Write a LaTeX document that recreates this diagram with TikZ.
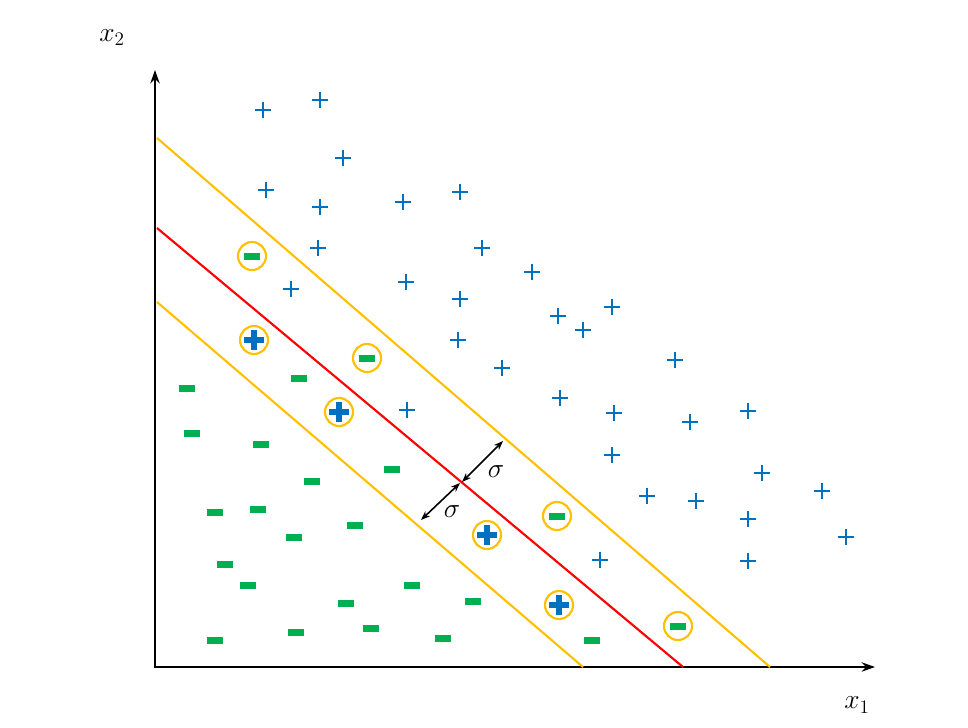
\documentclass[tikz,border=0pt]{standalone}
\usepackage{tikz}
\usepackage{xcolor}
\usetikzlibrary{arrows.meta}
\definecolor{posblue}{HTML}{0070C0}
\definecolor{neggreen}{HTML}{00B050}
\definecolor{margin}{HTML}{FFC000}
\tikzstyle{axis}=[-{Stealth[length=10pt,width=7pt]}, line width=2.2pt]
\tikzstyle{band}=[draw=margin, line width=1.6pt]
\tikzstyle{split}=[draw=red, line width=1.6pt]
\tikzstyle{gap}=[{Stealth[length=7pt]}-{Stealth[length=7pt]}, line width=1.2pt]
\tikzstyle{ring}=[draw=margin, line width=1.6pt]
\newcommand{\pos}[2]{\draw[posblue, line width=2.2pt] (#1-8,#2) -- (#1+8,#2) (#1,#2-8) -- (#1,#2+8);}
\newcommand{\bigpos}[2]{\draw[posblue, line width=4pt] (#1-10,#2) -- (#1+10,#2) (#1,#2-10) -- (#1,#2+10);}
\newcommand{\negm}[2]{\fill[neggreen] (#1-8,#2-3.5) rectangle (#1+8,#2+3.5);}

\begin{document}
\begin{tikzpicture}[x=0.02646cm, y=-0.02646cm]
    \useasboundingbox (0,0) rectangle (968,727);

    % axes
    \coordinate (o) at (155,667);
    \coordinate (ytop) at (155,70);
    \coordinate (xend) at (875,667);
    \draw[axis] (o) -- (ytop);
    \draw[axis] ([xshift=-1pt]o) -- (xend);
    \node (xtwo) at (112,38) {\fontsize{22}{26}\selectfont $x_2$};
    \node (xone) at (857,705) {\fontsize{22}{26}\selectfont $x_1$};

    % separating line and margins
    \coordinate (ua) at (157,138);  \coordinate (ub) at (770,667);
    \coordinate (ma) at (157,228);  \coordinate (mb) at (683,667);
    \coordinate (la) at (157,302);  \coordinate (lb) at (583,667);
    \draw[band] (ua) -- (ub);
    \draw[band] (la) -- (lb);
    \draw[split] (ma) -- (mb);

    % margin widths
    \coordinate (s1) at (462,482); \coordinate (s2) at (503,441);
    \coordinate (s3) at (421,520); \coordinate (s4) at (460,483);
    \draw[gap] (s1) -- (s2);
    \draw[gap] (s3) -- (s4);
    \node (sigup) at (496,472) {\fontsize{20}{24}\selectfont $\sigma$};
    \node (siglo) at (452,512) {\fontsize{20}{24}\selectfont $\sigma$};

    % positive samples
    \foreach \x/\y in {263/110,320/100,343/158,266/190,320/207,403/202,460/192,318/248,
        482/248,532/272,291/289,406/282,460/299,558/316,583/330,612/307,458/340,502/368,
        675/360,407/410,560/398,614/413,690/422,748/411,612/455,762/473,647/496,696/501,
        822/491,748/519,846/537,600/560,748/561}
        {\pos{\x}{\y}}

    % negative samples
    \foreach \x/\y in {187/388,299/378,192/433,261/444,392/469,312/481,215/512,258/509,
        355/525,294/537,225/564,248/585,412/585,473/601,346/603,215/640,296/632,371/628,
        443/638,592/640}
        {\negm{\x}{\y}}

    % support vectors
    \foreach \x/\y in {254/340,339/412,487/535,559/605}
        {\bigpos{\x}{\y} \draw[ring] (\x,\y) circle (14);}
    \foreach \x/\y in {252/256,367/358,557/516,678/626}
        {\negm{\x}{\y} \draw[ring] (\x,\y) circle (14);}
\end{tikzpicture}
\end{document}
